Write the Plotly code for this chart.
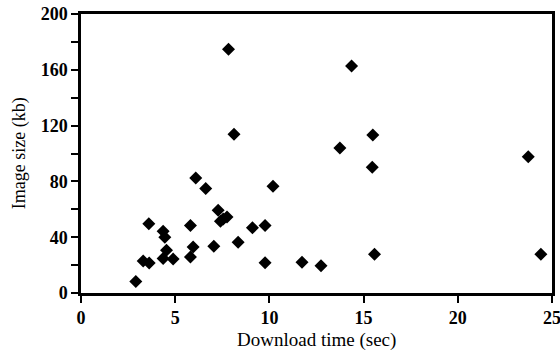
import plotly.graph_objects as go

download_time = [7.83, 8.12, 6.09, 14.36, 15.49, 13.74, 15.46, 23.74,
                 6.62, 10.19, 3.60, 5.81, 7.28, 7.40, 7.75, 7.55,
                 4.36, 4.45, 4.54, 4.36, 4.89, 3.30, 3.62, 2.91,
                 5.81, 5.95, 7.05, 8.34, 9.10, 9.77, 9.77,
                 11.73, 12.74, 15.58, 24.41]
image_size = [174.7, 113.8, 82.5, 162.7, 113.3, 104.0, 90.1, 97.7,
              75.0, 76.5, 49.6, 48.3, 59.3, 51.5, 54.5, 53.0,
              44.3, 40.0, 30.7, 24.8, 24.3, 23.0, 21.5, 8.2,
              25.8, 33.0, 33.5, 36.3, 46.8, 48.3, 21.7,
              22.0, 19.6, 27.7, 27.7]

x_ticks = [0, 5, 10, 15, 20, 25]
y_ticks = [0, 40, 80, 120, 160, 200]
x_title = "Download time (sec)"
y_title = "Image size (kb)"

font = "Liberation Serif"

fig = go.Figure()
fig.add_trace(go.Scatter(
    x=download_time, y=image_size, mode="markers",
    marker=dict(symbol="diamond", size=10, color="black"),
    showlegend=False,
))

fig.update_layout(
    width=560, height=354,
    margin=dict(l=81, r=8, t=14, b=61),
    paper_bgcolor="white", plot_bgcolor="white",
    font=dict(family=font, color="black"),
)
fig.update_xaxes(
    range=[0, 25], tickvals=x_ticks, ticktext=[f"<b>{v}</b>" for v in x_ticks],
    ticks="outside", ticklen=7, tickwidth=2, tickcolor="black",
    showline=True, linewidth=2.5, linecolor="black", mirror=True,
    showgrid=False, zeroline=False, automargin=False,
    ticklabeloverflow="allow",
    tickfont=dict(family=font, size=18),
)
fig.update_yaxes(
    range=[0, 200], tickvals=y_ticks, ticktext=[f"<b>{v}</b>" for v in y_ticks],
    ticks="outside", ticklen=7, tickwidth=2, tickcolor="black",
    minor=dict(tickvals=[20, 60, 100, 140, 180], ticks="outside", ticklen=7,
               tickwidth=2, tickcolor="black", showgrid=False),
    showline=True, linewidth=2.5, linecolor="black", mirror=True,
    showgrid=False, zeroline=False, automargin=False,
    ticklabeloverflow="allow",
    tickfont=dict(family=font, size=18),
)
fig.add_annotation(text=x_title, xref="paper", yref="paper", x=0.5, y=-0.168,
                   xanchor="center", yanchor="middle", showarrow=False,
                   font=dict(family=font, size=19, color="black"))
fig.add_annotation(text=y_title, xref="paper", yref="paper", x=-0.13, y=0.5,
                   xanchor="center", yanchor="middle", showarrow=False, textangle=-90,
                   font=dict(family=font, size=18, color="black"))

fig.write_html("out.html", config={"displayModeBar": False},
               post_script="document.body.style.margin='0';document.body.style.padding='0';")
